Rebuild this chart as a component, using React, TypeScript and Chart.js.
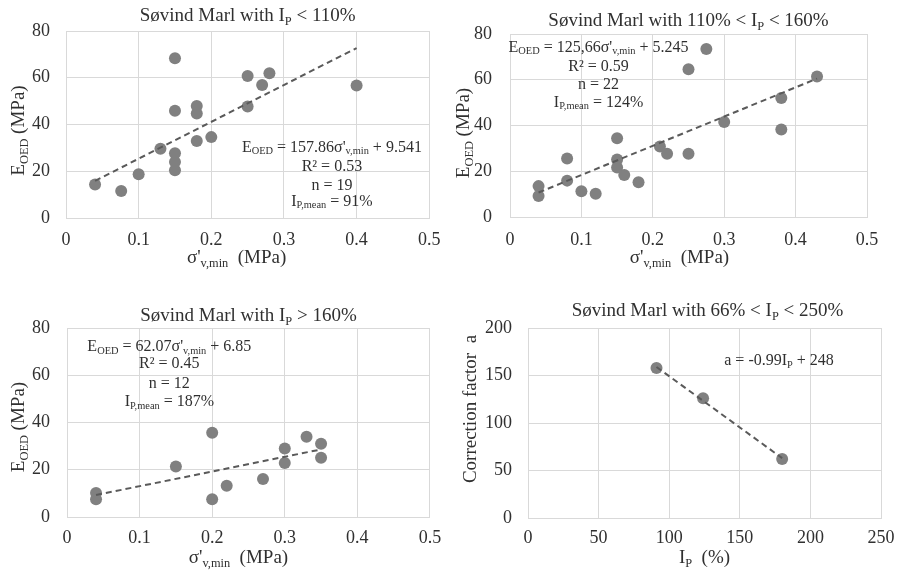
import React, { useEffect, useRef } from "react";
import { Chart, registerables } from "chart.js";
Chart.register(...registerables);

const FONT = "'Liberation Serif', 'Times New Roman', serif";
const TEXT = "#303030";
const GRID = "#d9d9d9";
const POINT = "#808080";
const TREND = "#5a5a5a";

// ---------- data ----------
// Panel 1: Ip < 110%
const p1X = [0.04, 0.076, 0.1, 0.13, 0.15, 0.15, 0.15, 0.15, 0.15, 0.18, 0.18, 0.18, 0.2, 0.25, 0.25, 0.27, 0.28, 0.4];
const p1Y = [14.3, 11.6, 18.7, 29.6, 68.3, 45.9, 27.7, 24.0, 20.4, 47.9, 44.7, 32.9, 34.6, 60.7, 47.7, 56.9, 61.9, 56.7];
const p1TrendX = [0.04, 0.4];
const p1TrendY = [15.9, 72.7];

// Panel 2: 110% < Ip < 160%
const p2X = [0.04, 0.04, 0.08, 0.08, 0.1, 0.12, 0.15, 0.15, 0.15, 0.16, 0.18, 0.21, 0.22, 0.25, 0.25, 0.275, 0.3, 0.38, 0.38, 0.43];
const p2Y = [13.5, 9.2, 25.6, 15.9, 11.3, 10.2, 34.4, 25.1, 21.6, 18.4, 15.2, 30.8, 27.6, 64.6, 27.6, 73.4, 41.5, 52.0, 38.3, 61.4];
const p2TrendX = [0.04, 0.43];
const p2TrendY = [10.7, 60.5];

// Panel 3: Ip > 160%
const p3X = [0.04, 0.04, 0.15, 0.2, 0.2, 0.22, 0.27, 0.3, 0.3, 0.33, 0.35, 0.35];
const p3Y = [10.2, 7.5, 21.4, 35.7, 7.5, 13.2, 16.1, 29.0, 22.9, 34.0, 31.0, 25.1];
const p3TrendX = [0.04, 0.35];
const p3TrendY = [9.3, 28.6];

// Panel 4: correction factor a vs Ip
const p4X = [91, 124, 180];
const p4Y = [158, 126, 62];
const p4TrendX = [91, 180];
const p4TrendY = [159, 63];

// tick values
const sigmaTicks = [0, 0.1, 0.2, 0.3, 0.4, 0.5];
const eoedTicks = [0, 20, 40, 60, 80];
const ipTicks = [0, 50, 100, 150, 200, 250];
const aTicks = [0, 50, 100, 150, 200];

// ---------- rich text ----------
type Seg = { t: string; sub?: boolean };
const S = (t: string): Seg => ({ t });
const B = (t: string): Seg => ({ t, sub: true });

function measureRich(ctx: CanvasRenderingContext2D, segs: Seg[], size: number) {
  let w = 0;
  for (const s of segs) {
    ctx.font = `${s.sub ? size * 0.65 : size}px ${FONT}`;
    w += ctx.measureText(s.t).width;
  }
  return w;
}
function drawRich(ctx: CanvasRenderingContext2D, segs: Seg[], cx: number, cy: number, size: number) {
  const w = measureRich(ctx, segs, size);
  let x = cx - w / 2;
  const base = cy + size * 0.33;
  ctx.fillStyle = TEXT;
  ctx.textBaseline = "alphabetic";
  ctx.textAlign = "left";
  for (const s of segs) {
    const fs = s.sub ? size * 0.65 : size;
    ctx.font = `${fs}px ${FONT}`;
    ctx.fillText(s.t, x, s.sub ? base + size * 0.17 : base);
    x += ctx.measureText(s.t).width;
  }
}

const sigmaTitle = [S("σ'"), B("v,min"), S("  (MPa)")];
const eoedTitle = [S("E"), B("OED"), S(" (MPa)")];

type PanelCfg = {
  box: { left: number; top: number; w: number; h: number };
  plot: { left: number; right: number; top: number; bottom: number };
  xs: number[];
  ys: number[];
  tx: number[];
  ty: number[];
  xTicks: number[];
  yTicks: number[];
  xDec: number;
  yPad: number;
  xPad: number;
  title: Seg[];
  titleDx: number;
  titleDy: number;
  xTitle: Seg[];
  xTitleDx: number;
  xTitleDy: number;
  yTitle: Seg[];
  yTitleDx: number;
  yTitleDy: number;
  noteX: number;
  noteY: number;
  notes: Seg[][];
  noteGaps: number[];
};

const panels: PanelCfg[] = [
  {
    box: { left: 0, top: 0, w: 452, h: 285 },
    plot: { left: 66, right: 432, top: 31, bottom: 218 },
    xs: p1X, ys: p1Y, tx: p1TrendX, ty: p1TrendY,
    xTicks: sigmaTicks, yTicks: eoedTicks, xDec: 1, yPad: 16, xPad: 11.5,
    title: [S("Søvind Marl with I"), B("P"), S(" < 110%")], titleDx: 0, titleDy: -16,
    xTitle: sigmaTitle, xTitleDx: -11, xTitleDy: 39,
    yTitle: eoedTitle, yTitleDx: -48, yTitleDy: 6,
    noteX: 0.366, noteY: 30.7,
    notes: [
      [S("E"), B("OED"), S(" = 157.86σ'"), B("v,min"), S(" + 9.541")],
      [S("R² = 0.53")],
      [S("n = 19")],
      [S("I"), B("P,mean"), S(" = 91%")],
    ],
    noteGaps: [0, 19, 38, 54],
  },
  {
    box: { left: 452, top: 0, w: 452, h: 285 },
    plot: { left: 58, right: 415, top: 34, bottom: 217 },
    xs: p2X, ys: p2Y, tx: p2TrendX, ty: p2TrendY,
    xTicks: sigmaTicks, yTicks: eoedTicks, xDec: 1, yPad: 18, xPad: 12.5,
    title: [S("Søvind Marl with 110% < I"), B("P"), S(" < 160%")], titleDx: 0, titleDy: -14,
    xTitle: sigmaTitle, xTitleDx: -9, xTitleDy: 40,
    yTitle: eoedTitle, yTitleDx: -47, yTitleDy: 7.5,
    noteX: 0.124, noteY: 74.6,
    notes: [
      [S("E"), B("OED"), S(" = 125,66σ'"), B("v,min"), S(" + 5.245")],
      [S("R² = 0.59")],
      [S("n = 22")],
      [S("I"), B("P,mean"), S(" = 124%")],
    ],
    noteGaps: [0, 19, 37.5, 55],
  },
  {
    box: { left: 0, top: 285, w: 452, h: 285 },
    plot: { left: 67, right: 437, top: 43, bottom: 232 },
    xs: p3X, ys: p3Y, tx: p3TrendX, ty: p3TrendY,
    xTicks: sigmaTicks, yTicks: eoedTicks, xDec: 1, yPad: 17, xPad: 10.8,
    title: [S("Søvind Marl with I"), B("P"), S(" > 160%")], titleDx: 0, titleDy: -13,
    xTitle: sigmaTitle, xTitleDx: -10, xTitleDy: 40,
    yTitle: eoedTitle, yTitleDx: -49, yTitleDy: 4.5,
    noteX: 0.141, noteY: 72.5,
    notes: [
      [S("E"), B("OED"), S(" = 62.07σ'"), B("v,min"), S(" + 6.85")],
      [S("R² = 0.45")],
      [S("n = 12")],
      [S("I"), B("P,mean"), S(" = 187%")],
    ],
    noteGaps: [0, 17, 37, 55],
  },
  {
    box: { left: 452, top: 285, w: 452, h: 285 },
    plot: { left: 76, right: 435, top: 43, bottom: 233 },
    xs: p4X, ys: p4Y, tx: p4TrendX, ty: p4TrendY,
    xTicks: ipTicks, yTicks: aTicks, xDec: 0, yPad: 16, xPad: 9.5,
    title: [S("Søvind Marl with 66% < I"), B("P"), S(" < 250%")], titleDx: 3, titleDy: -18,
    xTitle: [S("I"), B("P"), S("  (%)")], xTitleDx: 0, xTitleDy: 39,
    yTitle: [S("Correction factor  a")], yTitleDx: -58, yTitleDy: -14,
    noteX: 177.8, noteY: 166.5,
    notes: [[S("a = -0.99I"), B("P"), S(" + 248")]],
    noteGaps: [0],
  },
];

function Panel({ cfg }: { cfg: PanelCfg }) {
  const ref = useRef<HTMLCanvasElement | null>(null);
  useEffect(() => {
    const canvas = ref.current;
    if (!canvas) return;
    const { box, plot } = cfg;
    const textPlugin = {
      id: "panelText",
      afterDraw(chart: any) {
        const ctx: CanvasRenderingContext2D = chart.ctx;
        const a = chart.chartArea;
        const cx = (a.left + a.right) / 2;
        ctx.save();
        drawRich(ctx, cfg.title, cx + cfg.titleDx, a.top + cfg.titleDy, 19);
        drawRich(ctx, cfg.xTitle, cx + cfg.xTitleDx, a.bottom + cfg.xTitleDy, 19);
        ctx.save();
        ctx.translate(a.left + cfg.yTitleDx, (a.top + a.bottom) / 2 + cfg.yTitleDy);
        ctx.rotate(-Math.PI / 2);
        drawRich(ctx, cfg.yTitle, 0, 0, 19);
        ctx.restore();
        const nx = chart.scales.x.getPixelForValue(cfg.noteX);
        const ny = chart.scales.y.getPixelForValue(cfg.noteY);
        cfg.notes.forEach((line, i) => drawRich(ctx, line, nx, ny + cfg.noteGaps[i], 16));
        ctx.restore();
      },
    };
    const xT = cfg.xTicks;
    const yT = cfg.yTicks;
    const chart = new Chart(canvas, {
      type: "scatter",
      data: {
        datasets: [
          {
            type: "line",
            data: cfg.tx.map((x, i) => ({ x, y: cfg.ty[i] })),
            borderColor: TREND,
            borderWidth: 2,
            borderDash: [6, 4],
            pointRadius: 0,
            fill: false,
            order: 0,
          } as any,
          {
            data: cfg.xs.map((x, i) => ({ x, y: cfg.ys[i] })),
            backgroundColor: POINT,
            borderColor: POINT,
            borderWidth: 0,
            pointRadius: 6,
            order: 1,
          },
        ],
      },
      options: {
        animation: false,
        responsive: false,
        layout: {
          padding: { top: plot.top, right: box.w - plot.right, left: 0, bottom: 0 },
        },
        plugins: { legend: { display: false }, tooltip: { enabled: false }, title: { display: false } },
        scales: {
          x: {
            type: "linear",
            min: xT[0],
            max: xT[xT.length - 1],
            afterFit: (s: any) => {
              s.height = box.h - plot.bottom;
            },
            afterBuildTicks: (s: any) => {
              s.ticks = xT.map((v) => ({ value: v }));
            },
            ticks: {
              padding: cfg.xPad,
              color: TEXT,
              font: { family: FONT, size: 18 },
              maxRotation: 0,
              autoSkip: false,
              callback: (v: any) => (cfg.xDec ? String(Number(Number(v).toFixed(cfg.xDec))) : String(v)),
            },
            grid: { color: GRID, lineWidth: 1, drawTicks: false },
            border: { display: true, color: GRID, width: 1 },
          },
          y: {
            type: "linear",
            min: yT[0],
            max: yT[yT.length - 1],
            afterFit: (s: any) => {
              s.width = plot.left;
            },
            afterBuildTicks: (s: any) => {
              s.ticks = yT.map((v) => ({ value: v }));
            },
            ticks: {
              padding: cfg.yPad,
              color: TEXT,
              font: { family: FONT, size: 18 },
              callback: (v: any) => String(v),
            },
            grid: { color: GRID, lineWidth: 1, drawTicks: false },
            border: { display: true, color: GRID, width: 1 },
          },
        },
      },
      plugins: [textPlugin],
    } as any);
    return () => chart.destroy();
  }, [cfg]);
  const { box } = cfg;
  return (
    <canvas
      ref={ref}
      width={box.w}
      height={box.h}
      style={{ position: "absolute", left: box.left, top: box.top, width: box.w, height: box.h }}
    />
  );
}

export default function App() {
  return (
    <div style={{ position: "absolute", left: 0, top: 0, width: 904, height: 570, background: "#fff" }}>
      {panels.map((p, i) => (
        <Panel key={i} cfg={p} />
      ))}
    </div>
  );
}
